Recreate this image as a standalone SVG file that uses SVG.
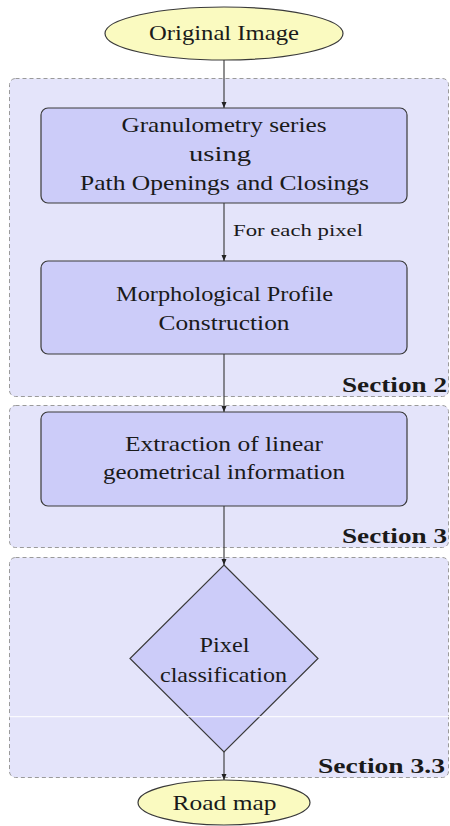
<svg xmlns="http://www.w3.org/2000/svg" width="450" height="826" viewBox="0 0 450 826">
<defs>
<style>
.sec{fill:#e4e4fa;stroke:#9a9a9a;stroke-width:1;stroke-dasharray:4 3}
.box{fill:#ccccf9;stroke:#3a3a3a;stroke-width:1.2}
.term{fill:#fafac0;stroke:#3a3a3a;stroke-width:1.2}
text{font-family:'Liberation Serif','DejaVu Serif',serif;fill:#1a1a1a}
.t{font-size:21.5px;text-anchor:middle}
.s{font-size:17px}
.b{font-size:20px;font-weight:bold;text-anchor:end}
.c{fill:none;stroke:#333;stroke-width:1.1}
</style>
<marker id="ah" viewBox="0 0 6 6" refX="6" refY="3" markerWidth="6" markerHeight="6" markerUnits="userSpaceOnUse" orient="auto">
<path d="M0,0.5 L6,3 L0,5.5 Z" fill="#222"/>
</marker>
</defs>
<rect width="450" height="826" fill="#ffffff"/>
<g id="section2">
<rect class="sec" x="9.5" y="78.5" width="439" height="318" rx="6"/>
<text class="b" x="447" y="391.5" textLength="105" lengthAdjust="spacingAndGlyphs">Section 2</text>
</g>
<g id="section3">
<rect class="sec" x="9.5" y="405.5" width="439" height="142" rx="6"/>
<text class="b" x="447" y="542.5" textLength="105" lengthAdjust="spacingAndGlyphs">Section 3</text>
</g>
<g id="section33">
<rect class="sec" x="9.5" y="557.5" width="439" height="220" rx="6"/>
<text class="b" x="445" y="772.5" textLength="127" lengthAdjust="spacingAndGlyphs">Section 3.3</text>
</g>
<g id="connectors">
<line class="c" x1="224" y1="60" x2="224" y2="108" marker-end="url(#ah)"/>
<line class="c" x1="224" y1="203" x2="224" y2="261" marker-end="url(#ah)"/>
<text class="s" x="233" y="236" textLength="130" lengthAdjust="spacingAndGlyphs">For each pixel</text>
<line class="c" x1="224" y1="354" x2="224" y2="412" marker-end="url(#ah)"/>
<line class="c" x1="224" y1="506" x2="224" y2="565" marker-end="url(#ah)"/>
<line class="c" x1="224" y1="752" x2="224" y2="780" marker-end="url(#ah)"/>
</g>
<g id="original">
<ellipse class="term" cx="224" cy="33.5" rx="119" ry="26.5"/>
<text class="t" x="224" y="40" textLength="150" lengthAdjust="spacingAndGlyphs">Original Image</text>
</g>
<g id="granulometry">
<rect class="box" x="41" y="108" width="366" height="95" rx="7"/>
<text class="t" x="224" y="131.5" textLength="205" lengthAdjust="spacingAndGlyphs">Granulometry series</text>
<text class="t" x="220" y="160.5" textLength="62" lengthAdjust="spacingAndGlyphs">using</text>
<text class="t" x="224.5" y="190" textLength="289" lengthAdjust="spacingAndGlyphs">Path Openings and Closings</text>
</g>
<g id="profile">
<rect class="box" x="41" y="261" width="366" height="93" rx="7"/>
<text class="t" x="224.5" y="301" textLength="217" lengthAdjust="spacingAndGlyphs">Morphological Profile</text>
<text class="t" x="224" y="330" textLength="131" lengthAdjust="spacingAndGlyphs">Construction</text>
</g>
<g id="extraction">
<rect class="box" x="41" y="412" width="366" height="94" rx="7"/>
<text class="t" x="224" y="450.5" textLength="198" lengthAdjust="spacingAndGlyphs">Extraction of linear</text>
<text class="t" x="224" y="478.5" textLength="242" lengthAdjust="spacingAndGlyphs">geometrical information</text>
</g>
<g id="classification">
<polygon class="box" points="224,565 318,658.5 224,752 130,658.5"/>
<text class="t" x="224.5" y="651.5" textLength="50" lengthAdjust="spacingAndGlyphs">Pixel</text>
<text class="t" x="223.5" y="681.5" textLength="127" lengthAdjust="spacingAndGlyphs">classification</text>
</g>
<g id="roadmap">
<ellipse class="term" cx="224" cy="802.5" rx="86" ry="22.5"/>
<text class="t" x="224.5" y="810" textLength="104" lengthAdjust="spacingAndGlyphs">Road map</text>
</g>
<line x1="0" y1="716.7" x2="450" y2="716.7" stroke="#ffffff" stroke-width="1"/>
</svg>
